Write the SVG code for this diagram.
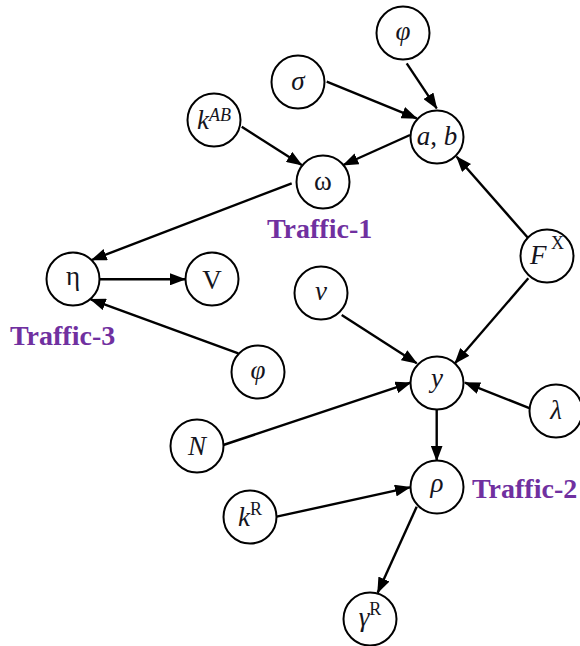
<svg xmlns="http://www.w3.org/2000/svg" width="580" height="646" viewBox="0 0 580 646">
<style>
.n circle{fill:#fff;stroke:#000;stroke-width:2}
.n text{font-family:"Liberation Serif","Times New Roman",serif;font-size:27px;fill:#141420;text-anchor:middle}
.it{font-style:italic}
.sup{font-size:18px}
.lbl{font-family:"Liberation Serif","Times New Roman",serif;font-weight:bold;font-size:28px;fill:#7030A0}
.e line{stroke:#000;stroke-width:2.4;marker-end:url(#ah)}
</style>
<defs>
<marker id="ah" markerUnits="userSpaceOnUse" markerWidth="16" markerHeight="12" viewBox="0 0 16 12" refX="15" refY="6" orient="auto">
<path d="M0,0 L16,6 L0,12 z" fill="#000"/>
</marker>
</defs>
<rect width="580" height="646" fill="#fff"/>
<g id="connectors" class="e">
<line x1="326.7" y1="81.7" x2="416.7" y2="118.3"/>
<line x1="406.7" y1="63.3" x2="436.7" y2="108.3"/>
<line x1="410" y1="135" x2="343.3" y2="165"/>
<line x1="241.7" y1="126.7" x2="301.7" y2="165"/>
<line x1="528.3" y1="238.3" x2="456.7" y2="156.7"/>
<line x1="291.7" y1="183.3" x2="91.7" y2="260"/>
<line x1="100" y1="279.3" x2="185" y2="279.3"/>
<line x1="238.3" y1="353.3" x2="90.7" y2="299.3"/>
<line x1="341.7" y1="315" x2="416.7" y2="363.3"/>
<line x1="528.3" y1="278.3" x2="455" y2="363.3"/>
<line x1="223.3" y1="445" x2="410.5" y2="382.7"/>
<line x1="530" y1="408.3" x2="465" y2="382.7"/>
<line x1="436.7" y1="409.3" x2="436.7" y2="460.5"/>
<line x1="276.7" y1="516.7" x2="410" y2="487.3"/>
<line x1="416.7" y1="506.7" x2="377.7" y2="592.7"/>
</g>
<g id="phi1" class="n"><circle cx="403" cy="33" r="26.5"/><text x="403" y="40" class="it">φ</text></g>
<g id="sigma" class="n"><circle cx="298" cy="82" r="26.5"/><text x="298" y="90" class="it">σ</text></g>
<g id="ab" class="n"><circle cx="437" cy="137" r="26.5"/><text x="437" y="145"><tspan class="it">a</tspan>, <tspan class="it">b</tspan></text></g>
<g id="kAB" class="n"><circle cx="214" cy="120" r="26.5"/><text x="214" y="129"><tspan class="it">k</tspan><tspan class="it sup" dy="-8">AB</tspan></text></g>
<g id="omega" class="n"><circle cx="323" cy="182" r="26.5"/><text x="323" y="190">ω</text></g>
<g id="eta" class="n"><circle cx="73" cy="279" r="26.5"/><text x="73" y="285">η</text></g>
<g id="V" class="n"><circle cx="212" cy="279" r="26.5"/><text x="212" y="289">V</text></g>
<g id="phi2" class="n"><circle cx="258" cy="372" r="26.5"/><text x="258" y="379" class="it">φ</text></g>
<g id="FX" class="n"><circle cx="547" cy="256" r="26.5"/><text x="547" y="264"><tspan class="it">F</tspan><tspan class="sup" dy="-15"> X</tspan></text></g>
<g id="nu" class="n"><circle cx="321" cy="293" r="26.5"/><text x="321" y="300" class="it">ν</text></g>
<g id="y" class="n"><circle cx="437" cy="383" r="26.5"/><text x="437" y="387" class="it">y</text></g>
<g id="lambda" class="n"><circle cx="556" cy="411" r="26.5"/><text x="556" y="419" class="it">λ</text></g>
<g id="N" class="n"><circle cx="197" cy="446" r="26.5"/><text x="197" y="455" class="it">N</text></g>
<g id="rho" class="n"><circle cx="437" cy="487" r="26.5"/><text x="437" y="492" class="it">ρ</text></g>
<g id="kR" class="n"><circle cx="250" cy="517" r="26.5"/><text x="250" y="526"><tspan class="it">k</tspan><tspan class="sup" dy="-11">R</tspan></text></g>
<g id="gammaR" class="n"><circle cx="370" cy="619" r="26.5"/><text x="370" y="626"><tspan class="it">γ</tspan><tspan class="sup" dy="-11">R</tspan></text></g>
<g id="labels">
<text class="lbl" x="267" y="238">Traffic-1</text>
<text class="lbl" x="472" y="498">Traffic-2</text>
<text class="lbl" x="10" y="345">Traffic-3</text>
</g>
</svg>
